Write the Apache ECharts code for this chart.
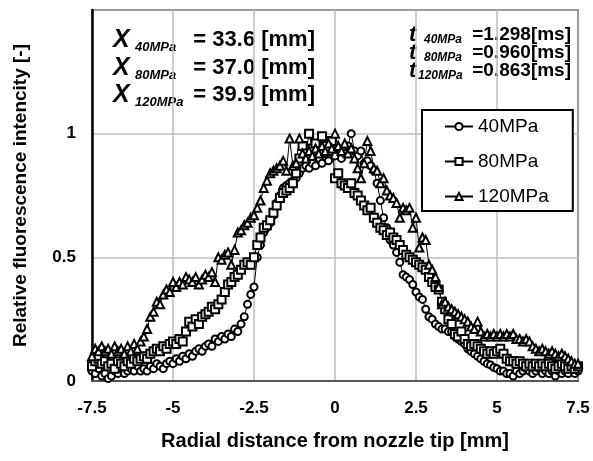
<!DOCTYPE html>
<html>
<head>
<meta charset="utf-8">
<script src="https://cdn.jsdelivr.net/npm/echarts@6/dist/echarts.min.js"></script>
<style>
  html, body { margin: 0; padding: 0; background: #fff; }
  #container { width: 593px; height: 461px; }
</style>
</head>
<body>
<div id="container"></div>
<script>
// radial positions [mm]
var radial = [
  -7.5, -7.4, -7.3, -7.2, -7.1, -7.0,
  -6.9, -6.8, -6.7, -6.6, -6.5, -6.4, -6.3, -6.2, -6.1, -6.0,
  -5.9, -5.8, -5.7, -5.6, -5.5, -5.4, -5.3, -5.2, -5.1, -5.0,
  -4.9, -4.8, -4.7, -4.6, -4.5, -4.4, -4.3, -4.2, -4.1, -4.0,
  -3.9, -3.8, -3.7, -3.6, -3.5, -3.4, -3.3, -3.2, -3.1, -3.0,
  -2.9, -2.8, -2.7, -2.6, -2.5, -2.4, -2.3, -2.2, -2.1, -2.0,
  -1.9, -1.8, -1.7, -1.6, -1.5, -1.4, -1.3, -1.2, -1.1, -1.0,
  -0.9, -0.8, -0.7, -0.6, -0.5, -0.4, -0.3, -0.2, -0.1, 0.0,
  0.1, 0.2, 0.3, 0.4, 0.5, 0.6, 0.7, 0.8, 0.9, 1.0,
  1.1, 1.2, 1.3, 1.4, 1.5, 1.6, 1.7, 1.8, 1.9, 2.0,
  2.1, 2.2, 2.3, 2.4, 2.5, 2.6, 2.7, 2.8, 2.9, 3.0,
  3.1, 3.2, 3.3, 3.4, 3.5, 3.6, 3.7, 3.8, 3.9, 4.0,
  4.1, 4.2, 4.3, 4.4, 4.5, 4.6, 4.7, 4.8, 4.9, 5.0,
  5.1, 5.2, 5.3, 5.4, 5.5, 5.6, 5.7, 5.8, 5.9, 6.0,
  6.1, 6.2, 6.3, 6.4, 6.5, 6.6, 6.7, 6.8, 6.9, 7.0,
  7.1, 7.2, 7.3, 7.4, 7.5
];

var p40 = [
  0.04, 0.03, 0.05, 0.02, 0.03, 0.01,
  0.02, 0.04, 0.03, 0.05, 0.03, 0.04, 0.05, 0.04, 0.06, 0.04,
  0.05, 0.04, 0.06, 0.05, 0.07, 0.06, 0.05, 0.07, 0.08, 0.07,
  0.09, 0.08, 0.10, 0.09, 0.11, 0.10, 0.12, 0.13, 0.12, 0.14,
  0.15, 0.14, 0.17, 0.16, 0.18, 0.17, 0.19, 0.18, 0.21, 0.20,
  0.23, 0.26, 0.31, 0.35, 0.38, 0.50, 0.55, 0.60, 0.62, 0.64,
  0.67, 0.72, 0.75, 0.78, 0.79, 0.80, 0.81, 0.82, 0.84, 0.86,
  0.87, 0.86, 0.88, 0.87, 0.90, 0.88, 0.92, 0.89, 0.93, 0.91,
  0.94, 0.90, 0.92, 0.95, 1.00, 0.93, 0.91, 0.93, 0.88, 0.89,
  0.87, 0.85, 0.80, 0.73, 0.66, 0.62, 0.57, 0.55, 0.52, 0.48,
  0.43, 0.42, 0.41, 0.39, 0.36, 0.34, 0.33, 0.29, 0.26, 0.25,
  0.23, 0.22, 0.21, 0.21, 0.20, 0.20, 0.18, 0.17, 0.16, 0.15,
  0.13, 0.12, 0.11, 0.10, 0.09, 0.08, 0.07, 0.065, 0.055, 0.05,
  0.04, 0.04, 0.03, 0.03, 0.02, 0.04, 0.03, 0.04, 0.05, 0.04,
  0.03, 0.04, 0.05, 0.03, 0.04, 0.03, 0.04, 0.02, 0.04, 0.03,
  0.04, 0.03, 0.05, 0.03, 0.04
];

var p80 = [
  0.06, 0.08, 0.09, 0.07, 0.08, 0.06,
  0.07, 0.05, 0.08, 0.07, 0.06, 0.08, 0.07, 0.09, 0.08, 0.09,
  0.10, 0.09, 0.11, 0.12, 0.13, 0.12, 0.14, 0.13, 0.15, 0.16,
  0.15, 0.17, 0.16, 0.20, 0.24, 0.22, 0.25, 0.23, 0.26, 0.27,
  0.28, 0.30, 0.29, 0.31, 0.33, 0.36, 0.39, 0.40, 0.42, 0.43,
  0.45, 0.47, 0.48, 0.47, 0.50, 0.55, 0.58, 0.62, 0.63, 0.65,
  0.68, 0.71, 0.74, 0.76, 0.77, 0.78, 0.80, 0.84, 0.90, 0.95,
  0.92, 1.00, 0.94, 0.96, 0.93, 0.99, 0.95, 0.93, 0.97, 0.82,
  0.84, 0.80, 0.79, 0.78, 0.80, 0.76, 0.75, 0.73, 0.71, 0.69,
  0.70, 0.66, 0.64, 0.62, 0.61, 0.59, 0.60, 0.58, 0.57, 0.55,
  0.53, 0.51, 0.50, 0.49, 0.48, 0.47, 0.46, 0.45, 0.42, 0.40,
  0.38, 0.37, 0.32, 0.29, 0.25, 0.23, 0.19, 0.18, 0.20, 0.17,
  0.15, 0.14, 0.15, 0.14, 0.13, 0.12, 0.11, 0.12, 0.11, 0.12,
  0.13, 0.11, 0.09, 0.08, 0.08, 0.07, 0.08, 0.07, 0.06, 0.07,
  0.06, 0.07, 0.06, 0.07, 0.06, 0.07, 0.06, 0.05, 0.06, 0.07,
  0.06, 0.05, 0.06, 0.05, 0.06
];

var p120 = [
  0.10, 0.13, 0.12, 0.14, 0.12, 0.13,
  0.11, 0.14, 0.12, 0.13, 0.11, 0.14, 0.12, 0.15, 0.13, 0.16,
  0.18, 0.21, 0.26, 0.28, 0.32, 0.31, 0.35, 0.37, 0.36, 0.40,
  0.38, 0.40, 0.39, 0.42, 0.41, 0.40, 0.42, 0.39, 0.41, 0.43,
  0.42, 0.44, 0.40, 0.50, 0.49, 0.51, 0.52, 0.47, 0.53, 0.60,
  0.61, 0.63, 0.64, 0.66, 0.67, 0.70, 0.73, 0.78, 0.81, 0.84,
  0.85, 0.86, 0.87, 0.89, 0.85, 0.98, 0.87, 0.88, 0.98, 0.92,
  0.90, 0.93, 0.91, 0.94, 0.92, 0.95, 0.93, 0.96, 0.94, 1.00,
  0.95, 0.93, 0.96, 0.92, 0.94, 0.90, 0.86, 0.82, 0.88, 0.97,
  0.93, 0.86, 0.85, 0.80, 0.82, 0.77, 0.75, 0.74, 0.72, 0.66,
  0.70, 0.69, 0.70, 0.62, 0.66, 0.54, 0.58, 0.57, 0.47, 0.45,
  0.42, 0.38, 0.31, 0.32, 0.30, 0.29, 0.28, 0.27, 0.26, 0.25,
  0.24, 0.22, 0.21, 0.24, 0.20, 0.18, 0.19, 0.18, 0.19, 0.18,
  0.19, 0.18, 0.19, 0.18, 0.19, 0.17, 0.17, 0.16, 0.17, 0.16,
  0.14, 0.13, 0.12, 0.13, 0.12, 0.11, 0.12, 0.11, 0.10, 0.11,
  0.10, 0.09, 0.08, 0.07, 0.07
];

var pressures = ['40MPa', '80MPa', '120MPa'];
var penetration = ['33.6', '37.0', '39.9'];
var times = ['1.298', '0.960', '0.863'];

var FONT = '"Liberation Sans", Arial, sans-serif';

function pairs(ys) {
  return ys.map(function (v, i) { return [radial[i], v]; });
}

var dom = document.getElementById('container');
var myChart = echarts.init(dom);

// annotation text (X and t values)
var graphics = [];
var rowY = [40, 68, 95];
var rowT = [35, 53, 71];
pressures.forEach(function (p, i) {
  graphics.push({
    type: 'text', x: 113, y: rowY[i],
    style: { text: 'X', font: 'italic bold 25px ' + FONT, fill: '#000', verticalAlign: 'middle' }
  });
  graphics.push({
    type: 'text', x: 135, y: rowY[i] + 7,
    style: { text: p, font: 'italic bold 13px ' + FONT, fill: '#000', verticalAlign: 'middle' }
  });
  graphics.push({
    type: 'text', x: 315, y: rowY[i],
    style: { text: '= ' + penetration[i] + ' [mm]', font: 'bold 22px ' + FONT, fill: '#000',
      align: 'right', verticalAlign: 'middle' }
  });
  graphics.push({
    type: 'text', x: 409, y: rowT[i],
    style: { text: 't', font: 'italic bold 22px ' + FONT, fill: '#000', verticalAlign: 'middle' }
  });
  graphics.push({
    type: 'text', x: i === 2 ? 418 : 424, y: rowT[i] + 5,
    style: { text: p, font: 'italic bold 12px ' + FONT, fill: '#000', verticalAlign: 'middle' }
  });
  graphics.push({
    type: 'text', x: 571, y: rowT[i],
    style: { text: '=' + times[i] + '[ms]', font: 'bold 19px ' + FONT, fill: '#000',
      align: 'right', verticalAlign: 'middle' }
  });
});

var option = {
  backgroundColor: '#fff',
  animation: false,
  textStyle: { fontFamily: FONT },
  grid: {
    left: 92, right: 15, top: 10, bottom: 80,
    show: true, borderColor: '#000', borderWidth: 1.5
  },
  legend: {
    orient: 'vertical',
    left: 422, top: 110,
    itemWidth: 28, itemHeight: 9, itemGap: 16,
    padding: [7, 24, 5, 22],
    borderColor: '#000', borderWidth: 2,
    backgroundColor: '#fff',
    textStyle: { fontSize: 19, color: '#000', fontFamily: FONT, lineHeight: 19 },
    data: pressures
  },
  xAxis: {
    type: 'value',
    min: -7.5, max: 7.5, interval: 2.5,
    name: 'Radial distance from nozzle tip [mm]',
    nameLocation: 'middle', nameGap: 50,
    nameTextStyle: { fontSize: 20, fontWeight: 'bold', color: '#000', fontFamily: FONT },
    axisLine: { show: true, onZero: false, lineStyle: { color: '#555', width: 2 } },
    axisTick: { show: false },
    axisLabel: { fontSize: 17, fontWeight: 'bold', color: '#000', margin: 19,
      formatter: function (v) { return String(v); } },
    splitLine: { show: true, lineStyle: { color: '#bdbdbd', width: 1.5 } }
  },
  yAxis: {
    type: 'value',
    min: 0, max: 1.5, interval: 0.5,
    name: 'Relative fluorescence intencity [-]',
    nameLocation: 'middle', nameGap: 62,
    nameTextStyle: { fontSize: 19, fontWeight: 'bold', color: '#000', fontFamily: FONT },
    axisLine: { show: true, onZero: false, lineStyle: { color: '#000', width: 2.5 } },
    axisTick: { show: false },
    axisLabel: { fontSize: 17, fontWeight: 'bold', color: '#000', margin: 16,
      formatter: function (v) { return v >= 1.5 ? '' : String(v); } },
    splitLine: { show: true, lineStyle: { color: '#bdbdbd', width: 1.5 } }
  },
  graphic: graphics,
  series: [
    {
      name: pressures[0], type: 'line', data: pairs(p40),
      symbol: 'emptyCircle', symbolSize: 7,
      lineStyle: { color: '#000', width: 1 },
      itemStyle: { color: '#000', borderWidth: 1 }
    },
    {
      name: pressures[1], type: 'line', data: pairs(p80),
      symbol: 'emptyRect', symbolSize: 8,
      lineStyle: { color: '#000', width: 1 },
      itemStyle: { color: '#000', borderWidth: 1 }
    },
    {
      name: pressures[2], type: 'line', data: pairs(p120),
      symbol: 'emptyTriangle', symbolSize: 8,
      lineStyle: { color: '#000', width: 1 },
      itemStyle: { color: '#000', borderWidth: 1 }
    }
  ]
};

myChart.setOption(option);
</script>
</body>
</html>
